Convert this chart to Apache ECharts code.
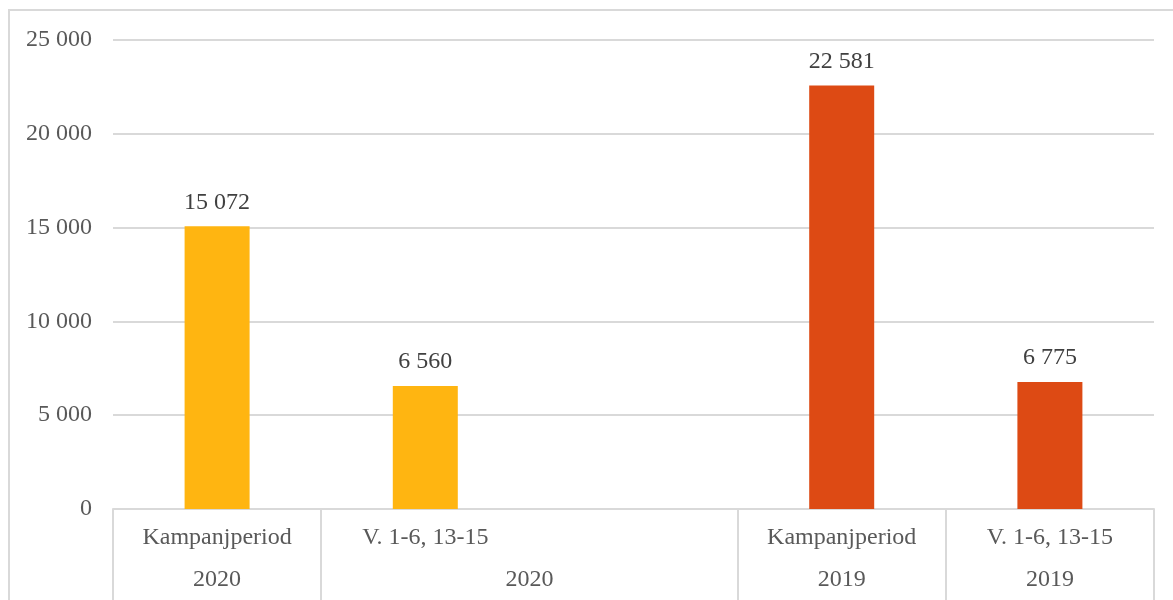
<!DOCTYPE html>
<html>
<head>
<meta charset="utf-8">
<script src="https://cdn.jsdelivr.net/npm/echarts@6/dist/echarts.min.js"></script>
<style>
  html, body { margin: 0; padding: 0; background: #fff; }
  #wrap { position: relative; width: 1173px; height: 600px; overflow: hidden; }
  #frame { position: absolute; left: 8px; top: 9px; width: 1200px; height: 640px;
           border: 2px solid #d9d9d9; box-sizing: border-box; }
  #chart { position: absolute; left: 0; top: 0; width: 1173px; height: 600px; }
</style>
</head>
<body>
<div id="wrap">
  <div id="frame"></div>
  <div id="chart"></div>
</div>
<script>
// Period labels (first axis row) and year labels (second row)
const periods = ['Kampanjperiod', 'V. 1-6, 13-15', '', 'Kampanjperiod', 'V. 1-6, 13-15'];
const years = ['2020', '2020', '2019', '2019'];
// Year label centres and group boundaries on the 0..5 category span
const yearCenters = [0.5, 2, 3.5, 4.5];
const groupEdges = [0, 1, 3, 4, 5];
// Values per year
const values2020 = [15072, 6560, null, null, null];
const values2019 = [null, null, null, 22581, 6775];
const yTicks = [0, 5000, 10000, 15000, 20000, 25000];

const fmt = v => String(Math.round(v)).replace(/\B(?=(\d{3})+(?!\d))/g, ' ');
const FONT = 'Liberation Serif';
const FS = 24;

const chart = echarts.init(document.getElementById('chart'), null, { renderer: 'canvas' });

const barLabel = {
  show: true, position: 'top', distance: 12,
  fontFamily: FONT, fontSize: FS, color: '#404040',
  formatter: p => fmt(p.value)
};

chart.setOption({
  animation: false,
  grid: { left: 113, right: 19, top: 40, bottom: 91 },
  xAxis: [
    {
      type: 'category', data: periods,
      axisLine: { show: true, lineStyle: { color: '#d9d9d9', width: 2 } },
      axisTick: { show: false },
      axisLabel: { interval: 0, margin: 17, fontFamily: FONT, fontSize: FS, color: '#595959' }
    },
    {
      type: 'value', min: 0, max: 5, position: 'bottom',
      axisLine: { show: false },
      splitLine: { show: false },
      axisTick: { show: true, customValues: groupEdges, length: 92,
                  lineStyle: { color: '#d9d9d9', width: 2 } },
      axisLabel: { customValues: yearCenters, margin: 59,
                   fontFamily: FONT, fontSize: FS, color: '#595959',
                   formatter: v => years[yearCenters.indexOf(v)] }
    }
  ],
  yAxis: {
    type: 'value', min: 0, max: 25000, interval: 5000,
    axisLine: { show: false }, axisTick: { show: false },
    splitLine: { lineStyle: { color: '#d9d9d9', width: 2 } },
    axisLabel: { margin: 21, fontFamily: FONT, fontSize: FS, color: '#595959',
                 formatter: v => yTicks.includes(v) ? fmt(v) : '' }
  },
  series: [
    { name: '2020', type: 'bar', stack: 'all', xAxisIndex: 0, barWidth: 65,
      data: values2020, itemStyle: { color: '#FFB511' }, label: barLabel },
    { name: '2019', type: 'bar', stack: 'all', xAxisIndex: 0, barWidth: 65,
      data: values2019, itemStyle: { color: '#DD4A14' }, label: barLabel }
  ]
});
</script>
</body>
</html>
